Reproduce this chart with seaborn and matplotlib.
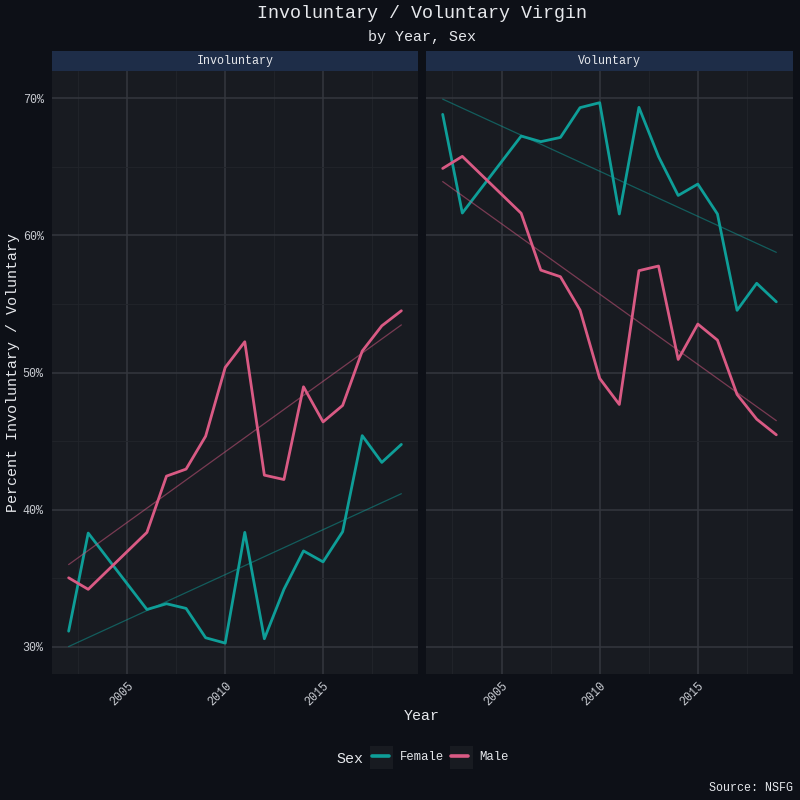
import numpy as np
import pandas as pd
import matplotlib
matplotlib.use("Agg")
import matplotlib.pyplot as plt
import seaborn as sns
from matplotlib.lines import Line2D
from matplotlib.patches import Rectangle
from matplotlib.ticker import FuncFormatter, MultipleLocator

# ---------------- data ----------------
years = [2002, 2003, 2006, 2007, 2008, 2009, 2010, 2011, 2012, 2013, 2014,
         2015, 2016, 2017, 2018, 2019]
inv_female = [31.15, 38.3, 32.73, 33.15, 32.81, 30.67, 30.28, 38.35, 30.6,
              34.2, 37.0, 36.2, 38.4, 45.4, 43.45, 44.76]
inv_male = [35.04, 34.2, 38.35, 42.45, 42.96, 45.36, 50.37, 52.24, 42.52,
            42.2, 48.96, 46.4, 47.6, 51.56, 53.4, 54.5]
vol_female = [68.81, 61.62, 67.23, 66.82, 67.13, 69.3, 69.66, 61.55, 69.32,
              65.73, 62.9, 63.73, 61.55, 54.53, 56.5, 55.15]
vol_male = [64.87, 65.75, 61.6, 57.46, 56.98, 54.55, 49.57, 47.67, 57.42,
            57.76, 50.95, 53.53, 52.36, 48.4, 46.6, 45.46]
panels = ["Involuntary", "Voluntary"]
sexes = ["Female", "Male"]
x_ticks = [2005, 2010, 2015]
y_ticks = [30, 40, 50, 60, 70]

rows = []
for panel, fem, mal in [("Involuntary", inv_female, inv_male),
                        ("Voluntary", vol_female, vol_male)]:
    for y, f, m in zip(years, fem, mal):
        rows.append(dict(Panel=panel, Sex="Female", Year=y, Pct=f))
        rows.append(dict(Panel=panel, Sex="Male", Year=y, Pct=m))
df = pd.DataFrame(rows)

# ---------------- style ----------------
FIG_BG = "#0d1017"
PANEL_BG = "#181b21"
STRIP_BG = "#1e2d48"
GRID_MAJ = "#34373e"
GRID_MIN = "#22252b"
TEXT = "#e6e8ec"
TICK = "#c9ccd2"
palette = {"Female": "#0e9e98", "Male": "#d95a84"}

sns.set_theme(style="dark")
plt.rcParams["font.family"] = ["Liberation Mono", "DejaVu Sans Mono"]

fig = plt.figure(figsize=(8, 8), dpi=100, facecolor=FIG_BG)

W = H = 800.0
def ax_rect(x0, y0, x1, y1):
    return [x0 / W, 1 - y1 / H, (x1 - x0) / W, (y1 - y0) / H]

axes_px = [(52, 71, 418, 674), (426, 71, 793, 674)]

for i, panel in enumerate(panels):
    x0, y0, x1, y1 = axes_px[i]
    ax = fig.add_axes(ax_rect(x0, y0, x1, y1))
    ax.set_facecolor(PANEL_BG)
    sub = df[df.Panel == panel]
    sns.lineplot(data=sub, x="Year", y="Pct", hue="Sex", palette=palette,
                 hue_order=sexes, linewidth=2.0, legend=False, ax=ax)
    for s in sexes:
        sns.regplot(data=sub[sub.Sex == s], x="Year", y="Pct", scatter=False,
                    ci=None, truncate=True, ax=ax,
                    line_kws=dict(color=palette[s], linewidth=0.9, alpha=0.5))
    ax.set_xlim(2001.15, 2019.85)
    ax.set_ylim(28.03, 71.97)
    ax.set_xticks(x_ticks)
    ax.set_yticks(y_ticks)
    ax.xaxis.set_minor_locator(MultipleLocator(2.5))
    ax.yaxis.set_minor_locator(MultipleLocator(5))
    ax.grid(which="major", color=GRID_MAJ, linewidth=1.1)
    ax.grid(which="minor", color=GRID_MIN, linewidth=0.6)
    ax.set_axisbelow(True)
    for sp in ax.spines.values():
        sp.set_visible(False)
    ax.tick_params(which="both", length=0, colors=TICK, labelsize=8.4)
    ax.set_xlabel("")
    ax.set_ylabel("")
    plt.setp(ax.get_xticklabels(), rotation=45, ha="right",
             rotation_mode="anchor", color=TICK)
    if i == 0:
        ax.yaxis.set_major_formatter(FuncFormatter(lambda v, p: f"{v:.0f}%"))
        ax.tick_params(axis="y", pad=6)
    else:
        ax.set_yticklabels([])
    ax.tick_params(axis="x", pad=4)
    # strip
    sax = fig.add_axes(ax_rect(x0, 51, x1, 71))
    sax.set_facecolor(STRIP_BG)
    sax.set_xticks([]); sax.set_yticks([])
    for sp in sax.spines.values():
        sp.set_visible(False)
    sax.text(0.5, 0.5, panel, ha="center", va="center", color=TEXT,
             fontsize=8.4, transform=sax.transAxes)

# titles
fig.text(422 / W, 1 - 14 / H, "Involuntary / Voluntary Virgin", ha="center",
         va="center", color=TEXT, fontsize=13.2)
fig.text(422 / W, 1 - 37 / H, "by Year, Sex", ha="center", va="center",
         color=TEXT, fontsize=10.8)
fig.text(422 / W, 1 - 716 / H, "Year", ha="center", va="center",
         color=TEXT, fontsize=10.8)
fig.text(13 / W, 1 - 373 / H, "Percent Involuntary / Voluntary", ha="center",
         va="center", rotation=90, color=TEXT, fontsize=10.8)
fig.text(793 / W, 1 - 788 / H, "Source: NSFG", ha="right", va="center",
         color=TEXT, fontsize=8.4)

# legend
fig.text(336 / W, 1 - 759 / H, "Sex", ha="left", va="center", color=TEXT,
         fontsize=10.8)
for bx in (370, 450):
    fig.patches.append(Rectangle((bx / W, 1 - 769 / H), 23 / W, 23 / H,
                                 transform=fig.transFigure, facecolor=PANEL_BG,
                                 edgecolor="none", zorder=0))
handles = [Line2D([], [], color=palette[s], linewidth=2.6) for s in sexes]
leg = fig.legend(handles, sexes, loc="center left",
                 bbox_to_anchor=(372 / W, 1 - 757 / H), ncol=2, frameon=False,
                 fontsize=8.8, handlelength=1.4, handletextpad=0.9,
                 columnspacing=0.55, labelcolor=TEXT, borderaxespad=0,
                 borderpad=0)

fig.savefig("out.png", dpi=100, facecolor=FIG_BG)
